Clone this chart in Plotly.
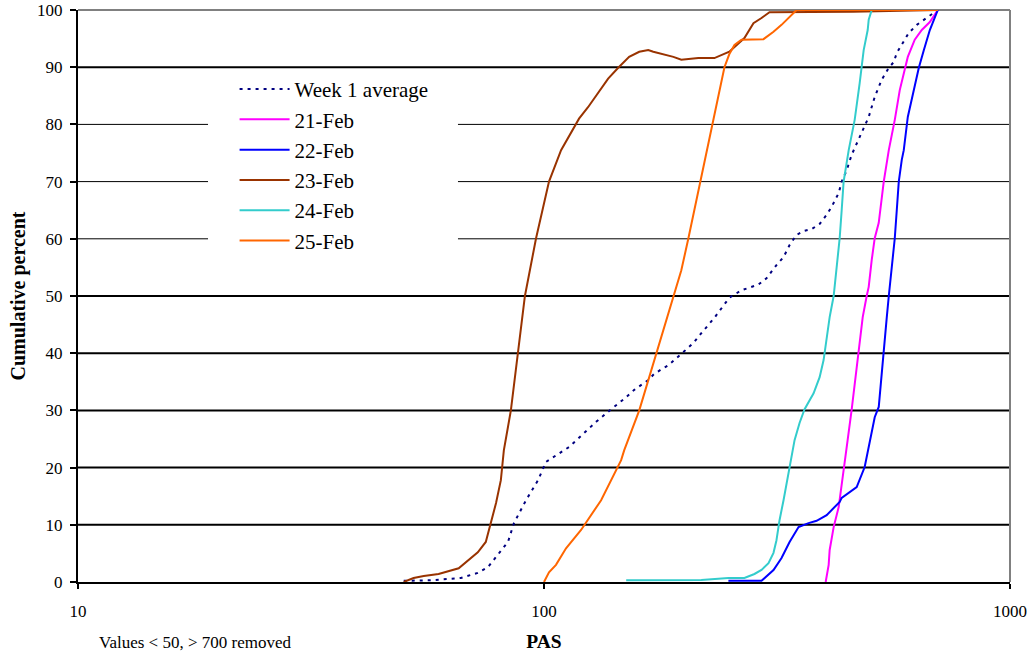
import plotly.graph_objects as go

# PAS values (x) and cumulative percent (y) for each series
week1_pas = [50, 57.1, 66.3, 72.1, 75.8, 79.6, 83.7, 86.2, 89.2, 91.5, 97.1, 101.0, 113.2,
             129.4, 139.3, 150.1, 156.2, 167.4, 172.4, 184.8, 199.1, 209.2, 217.6, 232.1,
             249.9, 265.3, 288.5, 300.2, 315.4, 326.6, 336.5, 348.4, 362.4, 375.2, 390.4,
             404.2, 414.3, 428.9, 435.3, 446.2, 457.4, 497.5, 512.5, 530.5, 549.4, 563.1,
             571.5, 591.6, 606.5, 631.0, 669.6, 700]
week1_pct = [0.2, 0.3, 0.7, 1.6, 2.6, 4.7, 7.0, 10.3, 12.6, 14.3, 17.8, 21.0, 23.6,
             28.0, 30.2, 32.3, 33.6, 35.3, 36.4, 37.9, 40.2, 41.8, 43.5, 46.2,
             49.7, 51.0, 52.0, 53.1, 55.4, 56.8, 58.9, 60.7, 61.4, 61.7, 62.6,
             64.2, 65.6, 68.0, 70.0, 72.0, 74.7, 81.3, 84.8, 87.8, 89.9, 90.9,
             92.5, 94.4, 96.0, 97.4, 98.8, 100]

feb21_pas = [402.2, 408.2, 410.2, 418.4, 428.9, 439.5, 448.3, 457.4, 464.2, 473.5, 483.0,
             492.6, 497.5, 505.0, 512.5, 522.8, 535.9, 549.4, 565.9, 580.0, 594.6, 603.5,
             624.6, 646.7, 672.9, 700]
feb21_pct = [0, 3.0, 5.6, 9.6, 13.1, 20.1, 24.8, 30.2, 34.8, 40.0, 46.3,
             50.0, 51.6, 56.3, 60.1, 62.8, 70.0, 75.5, 80.8, 86.0, 89.9, 91.8,
             94.8, 96.5, 97.9, 100]

feb22_pas = [248.7, 292.9, 310.8, 323.4, 336.5, 351.8, 369.6, 384.6, 404.2, 431.0, 435.3,
             468.8, 487.7, 500.0, 512.5, 522.8, 528.0, 535.9, 544.0, 549.4, 557.6, 565.9,
             571.5, 577.2, 585.8, 591.6, 603.5, 621.5, 637.3, 653.4, 672.9, 700]
feb22_pct = [0.2, 0.2, 2.1, 4.2, 7.0, 9.6, 10.3, 10.7, 11.7, 14.0, 14.7,
             16.6, 20.1, 24.3, 28.8, 30.6, 34.8, 40.0, 46.3, 50.0, 55.1, 60.1,
             65.0, 70.0, 73.8, 75.5, 81.3, 86.0, 89.9, 93.0, 96.5, 100]

feb23_pas = [50.0, 52.5, 55.2, 59.4, 65.6, 72.1, 75.0, 76.9, 78.9, 80.8, 82.0, 84.9, 87.9,
             91.0, 96.1, 102.5, 108.8, 118.9, 124.3, 137.3, 144.3, 152.3, 160.1, 167.4,
             171.6, 189.5, 197.1, 214.4, 232.1, 249.9, 269.2, 281.5, 292.9, 304.7, 460, 700]
feb23_pct = [0, 0.7, 1.05, 1.4, 2.4, 5.2, 7.0, 10.3, 13.8, 17.8, 23.0, 30.0, 40.0,
             50.0, 60.0, 70.0, 75.5, 81.0, 83.0, 88.0, 89.9, 91.8, 92.7, 93.0,
             92.7, 91.8, 91.3, 91.6, 91.6, 92.7, 95.1, 97.7, 98.6, 99.6, 99.7, 100]

feb24_pas = [150.1, 217.6, 248.7, 269.2, 282.9, 292.9, 303.2, 310.8, 315.4, 320.2, 326.6,
             336.5, 344.9, 353.5, 362.4, 378.9, 390.4, 398.1, 404.2, 410.2, 418.4, 424.6,
             431.0, 435.3, 439.5, 450.7, 464.2, 475.8, 485.3, 495.0, 497.5, 505.0, 700]
feb24_pct = [0.3, 0.35, 0.7, 0.7, 1.4, 2.1, 3.3, 5.1, 7.3, 10.8, 14.3,
             20.1, 24.8, 27.8, 30.2, 33.0, 35.8, 38.8, 42.8, 46.3, 50.0, 54.5,
             60.1, 65.0, 70.0, 75.5, 80.8, 87.2, 93.0, 96.5, 98.3, 100, 100]

feb25_pas = [100, 102.5, 106.1, 111.5, 120.1, 132.6, 146.4, 148.6, 160.1, 174.1, 189.5,
             197.1, 204.0, 216.5, 223.1, 230.9, 236.7, 243.9, 249.9, 256.3, 265.3, 295.8,
             310.8, 323.4, 348.4, 700]
feb25_pct = [0, 1.7, 3.0, 5.9, 9.1, 14.3, 21.3, 23.0, 30.0, 40.0, 50.0,
             54.5, 60.0, 70.0, 75.5, 81.0, 85.5, 90.0, 92.3, 93.9, 94.8, 94.9,
             96.2, 97.4, 100, 100]

series = [
    ("Week 1 average", week1_pas, week1_pct, "#000080", "3px,5px"),
    ("21-Feb", feb21_pas, feb21_pct, "#FF00FF", "solid"),
    ("22-Feb", feb22_pas, feb22_pct, "#0000FF", "solid"),
    ("23-Feb", feb23_pas, feb23_pct, "#993300", "solid"),
    ("24-Feb", feb24_pas, feb24_pct, "#33CCCC", "solid"),
    ("25-Feb", feb25_pas, feb25_pct, "#FF6600", "solid"),
]

y_ticks = list(range(0, 101, 10))
x_ticks = [10, 100, 1000]
x_tick_text = ["10", "100", "1000"]

FONT = "Liberation Serif, Times New Roman, serif"

fig = go.Figure()
for name, xs, ys, color, dash in series:
    fig.add_trace(go.Scatter(
        x=xs, y=ys, name=name, mode="lines",
        line=dict(color=color, width=2, dash=dash),
    ))

# horizontal gridlines drawn as shapes (between grid layer and traces)
grid_widths = {10: 2, 20: 2, 30: 2, 40: 2, 50: 2, 60: 1, 70: 1, 80: 1, 90: 2}
shapes = []
for v, w in grid_widths.items():
    shapes.append(dict(type="line", xref="paper", yref="y", x0=0, x1=1, y0=v, y1=v,
                       line=dict(color="black", width=w), layer="between"))
# white panel behind the legend
shapes.append(dict(type="rect", xref="paper", yref="paper",
                   x0=0.1395, x1=0.4077, y0=0.571, y1=0.888,
                   fillcolor="white", line=dict(width=0), layer="between"))
# grey top and right frame
shapes.append(dict(type="line", xref="paper", yref="paper", x0=0, x1=1, y0=1, y1=1,
                   line=dict(color="#808080", width=2), layer="between"))
shapes.append(dict(type="line", xref="paper", yref="paper", x0=1, x1=1, y0=0, y1=1,
                   line=dict(color="#808080", width=2), layer="between"))

fig.update_layout(
    width=1031, height=658,
    margin=dict(l=78, r=21, t=10, b=76, autoexpand=False),
    paper_bgcolor="white", plot_bgcolor="white",
    font=dict(family=FONT, color="black", size=17),
    shapes=shapes,
    showlegend=True,
    legend=dict(
        x=0.168, y=0.897, xanchor="left", yanchor="top",
        bgcolor="rgba(0,0,0,0)", borderwidth=0,
        font=dict(family=FONT, size=21, color="black"),
        itemwidth=50, tracegroupgap=0,
    ),
    xaxis=dict(
        type="log", range=[1, 3], automargin=False,
        tickmode="array", tickvals=x_ticks, ticktext=x_tick_text,
        showgrid=False, zeroline=False,
        showline=True, linecolor="black", linewidth=2,
        ticks="outside", ticklen=5, tickwidth=2, tickcolor="black",
        tickfont=dict(family=FONT, size=17),
        ticklabelstandoff=8,
        title=dict(text="<b>PAS</b>", font=dict(family=FONT, size=19.5), standoff=14),
    ),
    yaxis=dict(
        range=[0, 100], automargin=False,
        tickmode="array", tickvals=y_ticks,
        showgrid=False, zeroline=False,
        showline=True, linecolor="black", linewidth=2,
        ticks="outside", ticklen=6, tickwidth=2, tickcolor="black",
        tickfont=dict(family=FONT, size=17),
        ticklabelstandoff=4,
        title=dict(text="<b>Cumulative percent</b>", font=dict(family=FONT, size=20), standoff=6),
    ),
    annotations=[dict(
        text="Values < 50, > 700 removed", xref="paper", yref="paper",
        x=0.126, y=-0.105, xanchor="center", yanchor="middle", showarrow=False,
        font=dict(family=FONT, size=17, color="black"),
    )],
)

fig.write_html("out.html")
